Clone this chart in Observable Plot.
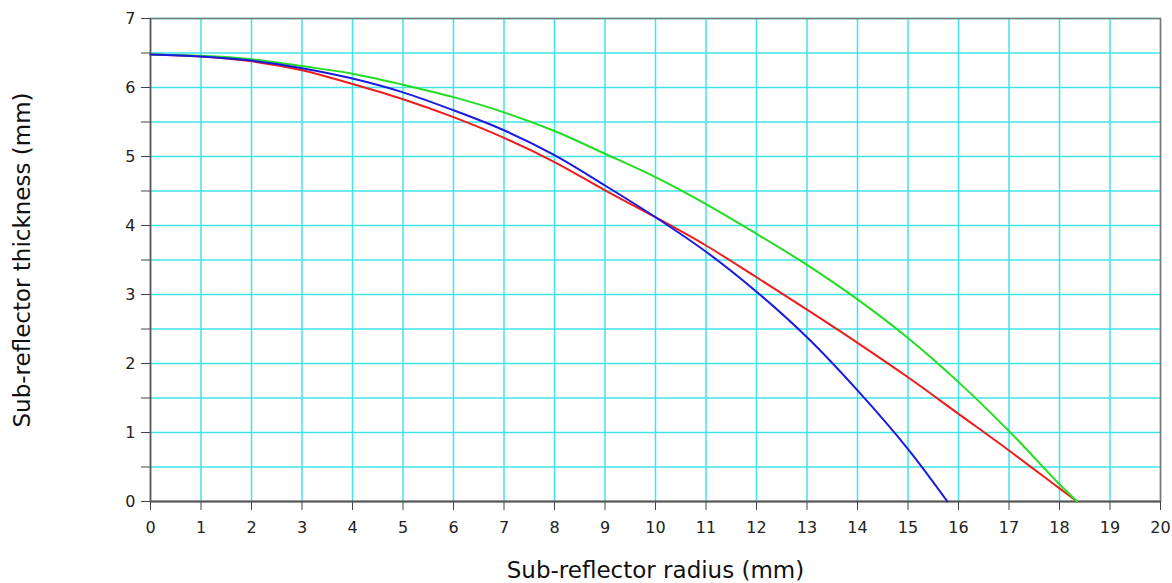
<!DOCTYPE html>
<html>
<head>
<meta charset="utf-8">
<script src="https://cdn.jsdelivr.net/npm/d3@7"></script>
<script src="https://cdn.jsdelivr.net/npm/@observablehq/plot@0.6"></script>
<style>
  html, body { margin: 0; padding: 0; background: #fff; }
  #chart { width: 1172px; height: 583px; }
</style>
</head>
<body>
<div id="chart"></div>
<script>
// Sub-reflector radius (mm) vs thickness (mm)
const radiusRed   = [0, 1, 2, 3, 4, 5, 6, 7, 8, 9, 10, 11, 12, 13, 14, 15, 16, 17, 18, 18.35];
const thickRed    = [6.48, 6.45, 6.38, 6.25, 6.05, 5.83, 5.57, 5.27, 4.92, 4.51, 4.12, 3.71, 3.25, 2.78, 2.30, 1.80, 1.27, 0.74, 0.19, 0];
const radiusGreen = [0, 1, 2, 3, 4, 5, 6, 7, 8, 9, 10, 11, 12, 13, 14, 15, 16, 17, 18, 18.35];
const thickGreen  = [6.48, 6.46, 6.41, 6.31, 6.20, 6.04, 5.86, 5.64, 5.37, 5.04, 4.70, 4.31, 3.88, 3.43, 2.93, 2.37, 1.73, 1.02, 0.25, 0];
const radiusBlue  = [0, 1, 2, 3, 4, 5, 6, 7, 8, 9, 10, 11, 12, 13, 14, 15, 15.78];
const thickBlue   = [6.48, 6.45, 6.39, 6.28, 6.13, 5.93, 5.67, 5.38, 5.02, 4.58, 4.12, 3.62, 3.04, 2.38, 1.61, 0.76, 0];

const xTicks = d3.range(0, 21, 1);
const yTicks = d3.range(0, 8, 1);
const yMinor = d3.range(0.5, 7, 1);
const yGrid  = d3.range(0.5, 7.01, 0.5);
const xGrid  = d3.range(1, 21, 1);

const xLabel = "Sub-reflector radius (mm)";
const yLabel = "Sub-reflector thickness (mm)";

const series = [
  {r: radiusRed, t: thickRed, color: "#ee1c1c"},
  {r: radiusGreen, t: thickGreen, color: "#22dd22"},
  {r: radiusBlue, t: thickBlue, color: "#1a1ae0"}
];
const toRows = s => s.r.map((r, i) => ({r, t: s.t[i]}));

const font = "'DejaVu Sans', Verdana, sans-serif";

const marks = [
  Plot.ruleX(xGrid, {stroke: "#3fe3ea", strokeWidth: 1.5}),
  Plot.ruleY(yGrid, {stroke: "#3fe3ea", strokeWidth: 1.5}),
  Plot.frame({stroke: "#777", strokeWidth: 1.5}),
  Plot.axisX({ticks: xTicks, tickSize: 9, tickPadding: 11, tickFormat: d => d, label: null, fontSize: 16, stroke: "#444", fill: "#222"}),
  Plot.axisY({ticks: yTicks, tickSize: 9, tickPadding: 6, tickFormat: d => d, label: null, fontSize: 16, stroke: "#444", fill: "#222"}),
  Plot.axisY({ticks: yMinor, tickSize: 9, tickFormat: () => "", label: null, stroke: "#444"}),
  Plot.ruleY([0], {stroke: "#555", strokeWidth: 2}),
  Plot.ruleX([0], {stroke: "#555", strokeWidth: 1.5}),
  ...series.map(s => Plot.line(toRows(s), {x: "r", y: "t", stroke: s.color, strokeWidth: 2, curve: "catmull-rom"})),
  Plot.text([xLabel], {frameAnchor: "bottom", dy: 69, text: d => d, fontSize: 23, fill: "#111", lineAnchor: "middle"}),
  Plot.text([yLabel], {frameAnchor: "left", dx: -128, rotate: -90, text: d => d, fontSize: 23, fill: "#111", textAnchor: "middle"})
];

const chart = Plot.plot({
  width: 1172,
  height: 583,
  marginLeft: 150,
  marginRight: 12,
  marginTop: 18,
  marginBottom: 82,
  style: {fontFamily: font, color: "#111", background: "#fff"},
  x: {domain: [0, 20]},
  y: {domain: [0, 7]},
  marks
});
document.getElementById("chart").appendChild(chart);
</script>
</body>
</html>
